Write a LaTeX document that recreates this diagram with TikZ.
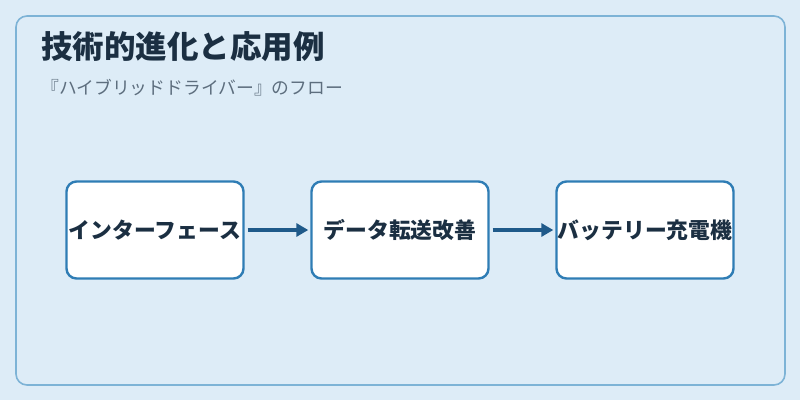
\documentclass[tikz,border=0pt]{standalone}
\usepackage{fontspec}
\setmainfont{Noto Sans CJK JP}
\usetikzlibrary{arrows.meta}
\definecolor{bgblue}{HTML}{DDECF7}
\definecolor{framecol}{HTML}{7DB3D6}
\definecolor{boxline}{HTML}{2F7DB5}
\definecolor{arrowcol}{HTML}{1F5A8A}
\definecolor{titlecol}{HTML}{1B2F42}
\definecolor{subcol}{HTML}{5D6E7E}
\begin{document}
\begin{tikzpicture}[
    x=1pt, y=-1pt,
    >={Triangle[length=12pt,width=13pt]},
    stepbox/.style={draw=boxline, line width=2.4pt, fill=white, rounded corners=10pt,
                    minimum width=177pt, minimum height=97pt, inner sep=0pt,
                    font=\fontsize{21.8}{26}\selectfont\bfseries, text=titlecol},
    link/.style={->, draw=arrowcol, line width=3.4pt, shorten <=3pt, shorten >=2pt}
]
  % background
  \fill[bgblue] (0,0) rectangle (800,400);
  \draw[framecol, line width=1.6pt, rounded corners=11pt] (16,16) rectangle (785,385);

  % heading
  \node[anchor=west, inner sep=0pt, text=titlecol, font=\fontsize{31.5}{36}\selectfont\bfseries] (title) at (41,47) {技術的進化と応用例};
  \node[anchor=west, inner sep=0pt, text=subcol, font=\fontsize{17.8}{21}\selectfont] (sub) at (41,88) {『ハイブリッドドライバー』のフロー};

  % nodes
  \node[stepbox] (iface) at (155,230) {インターフェース};
  \node[stepbox] (data) at (400,230) {データ転送改善};
  \node[stepbox] (charger) at (645,230) {バッテリー充電機};

  % edges
  \draw[link] (iface) -- (data);
  \draw[link] (data) -- (charger);
\end{tikzpicture}
\end{document}
